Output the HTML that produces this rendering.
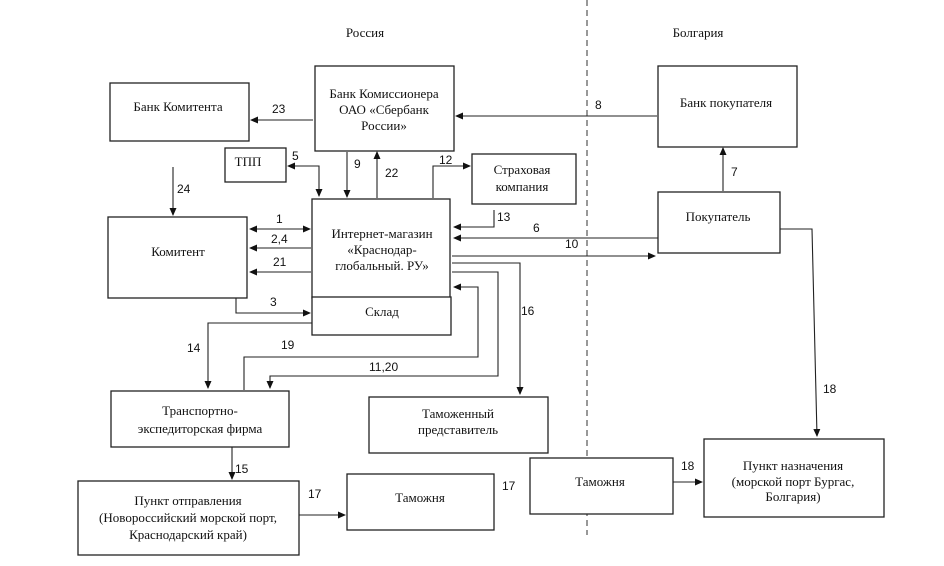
<!DOCTYPE html>
<html><head><meta charset="utf-8"><style>
html,body{margin:0;padding:0;background:#fff;}
svg{display:block}
.t{font-family:"Liberation Serif","DejaVu Serif",serif;font-size:13px;fill:#111;text-anchor:middle}
.n{font-family:"Liberation Sans","DejaVu Sans",sans-serif;font-size:12px;fill:#111}
rect{fill:#fff;stroke:#222;stroke-width:1.3}
.l{fill:none;stroke:#222;stroke-width:1.1}
</style></head><body>
<svg width="944" height="566" viewBox="0 0 944 566" xmlns="http://www.w3.org/2000/svg">
<defs><marker id="a" markerWidth="8" markerHeight="8" refX="7" refY="4" orient="auto" markerUnits="userSpaceOnUse"><path d="M0,0.5 L8,4 L0,7.5z" fill="#111"/></marker>
<marker id="s" markerWidth="8" markerHeight="8" refX="1" refY="4" orient="auto" markerUnits="userSpaceOnUse"><path d="M8,0.5 L0,4 L8,7.5z" fill="#111"/></marker></defs>
<line x1="587" y1="0" x2="587" y2="535" stroke="#777" stroke-width="1.5" stroke-dasharray="6,4"/>
<text class="t" x="365" y="37">Россия</text>
<text class="t" x="698" y="37">Болгария</text>

<!-- connectors -->
<path class="l" d="M313,120 H251" marker-end="url(#a)"/>
<path class="l" d="M657,116 H456" marker-end="url(#a)"/>
<path class="l" d="M723,191 V148" marker-end="url(#a)"/>
<path class="l" d="M347,152 V197" marker-end="url(#a)"/>
<path class="l" d="M377,198 V152" marker-end="url(#a)"/>
<path class="l" d="M433,198 V166 H470" marker-end="url(#a)"/>
<path class="l" d="M288,166 H319 V196" marker-start="url(#s)" marker-end="url(#a)"/>
<path class="l" d="M173,167 V215" marker-end="url(#a)"/>
<path class="l" d="M250,229 H310" marker-start="url(#s)" marker-end="url(#a)"/>
<path class="l" d="M311,248 H250" marker-end="url(#a)"/>
<path class="l" d="M311,272 H250" marker-end="url(#a)"/>
<path class="l" d="M236,298 V313 H310" marker-end="url(#a)"/>
<path class="l" d="M312,323 H208 V388" marker-end="url(#a)"/>
<path class="l" d="M244,390 V357 H478 V287 H454" marker-end="url(#a)"/>
<path class="l" d="M452,272 H498 V376 H270 V388" marker-end="url(#a)"/>
<path class="l" d="M452,263 H520 V394" marker-end="url(#a)"/>
<path class="l" d="M494,210 V227 H454" marker-end="url(#a)"/>
<path class="l" d="M658,238 H454" marker-end="url(#a)"/>
<path class="l" d="M452,256 H655" marker-end="url(#a)"/>
<path class="l" d="M780,229 H812 L817,436" marker-end="url(#a)"/>
<path class="l" d="M232,447 V479" marker-end="url(#a)"/>
<path class="l" d="M299,515 H345" marker-end="url(#a)"/>
<path class="l" d="M673,482 H702" marker-end="url(#a)"/>

<!-- boxes -->
<rect x="110" y="83" width="139" height="58"/>
<text class="t" x="178" y="111">Банк Комитента</text>
<rect x="315" y="66" width="139" height="85"/>
<text class="t" x="384" y="98">Банк Комиссионера</text>
<text class="t" x="384" y="114">ОАО «Сбербанк</text>
<text class="t" x="384" y="130">России»</text>
<rect x="658" y="66" width="139" height="81"/>
<text class="t" x="726" y="107">Банк покупателя</text>
<rect x="225" y="148" width="61" height="34"/>
<text class="t" x="248" y="166">ТПП</text>
<rect x="472" y="154" width="104" height="50"/>
<text class="t" x="522" y="174">Страховая</text>
<text class="t" x="522" y="191">компания</text>
<rect x="108" y="217" width="139" height="81"/>
<text class="t" x="178" y="256">Комитент</text>
<rect x="312" y="199" width="138" height="99"/>
<text class="t" x="382" y="238">Интернет-магазин</text>
<text class="t" x="382" y="254">«Краснодар-</text>
<text class="t" x="382" y="270">глобальный. РУ»</text>
<rect x="312" y="297" width="139" height="38"/>
<text class="t" x="382" y="316">Склад</text>
<rect x="658" y="192" width="122" height="61"/>
<text class="t" x="718" y="221">Покупатель</text>
<rect x="111" y="391" width="178" height="56"/>
<text class="t" x="200" y="415">Транспортно-</text>
<text class="t" x="200" y="433">экспедиторская фирма</text>
<rect x="369" y="397" width="179" height="56"/>
<text class="t" x="458" y="418">Таможенный</text>
<text class="t" x="458" y="434">представитель</text>
<rect x="78" y="481" width="221" height="74"/>
<text class="t" x="188" y="505">Пункт отправления</text>
<text class="t" x="188" y="522">(Новороссийский морской порт,</text>
<text class="t" x="188" y="539">Краснодарский край)</text>
<rect x="347" y="474" width="147" height="56"/>
<text class="t" x="420" y="502">Таможня</text>
<rect x="530" y="458" width="143" height="56"/>
<text class="t" x="600" y="486">Таможня</text>
<rect x="704" y="439" width="180" height="78"/>
<text class="t" x="793" y="470">Пункт назначения</text>
<text class="t" x="793" y="486">(морской порт Бургас,</text>
<text class="t" x="793" y="501">Болгария)</text>

<!-- labels -->
<text class="n" x="272" y="113">23</text>
<text class="n" x="595" y="109">8</text>
<text class="n" x="731" y="176">7</text>
<text class="n" x="354" y="168">9</text>
<text class="n" x="385" y="177">22</text>
<text class="n" x="439" y="164">12</text>
<text class="n" x="292" y="160">5</text>
<text class="n" x="177" y="193">24</text>
<text class="n" x="276" y="223">1</text>
<text class="n" x="271" y="243">2,4</text>
<text class="n" x="273" y="266">21</text>
<text class="n" x="270" y="306">3</text>
<text class="n" x="187" y="352">14</text>
<text class="n" x="281" y="349">19</text>
<text class="n" x="369" y="371">11,20</text>
<text class="n" x="521" y="315">16</text>
<text class="n" x="497" y="221">13</text>
<text class="n" x="533" y="232">6</text>
<text class="n" x="565" y="248">10</text>
<text class="n" x="823" y="393">18</text>
<text class="n" x="235" y="473">15</text>
<text class="n" x="308" y="498">17</text>
<text class="n" x="502" y="490">17</text>
<text class="n" x="681" y="470">18</text>
</svg>
</body></html>
